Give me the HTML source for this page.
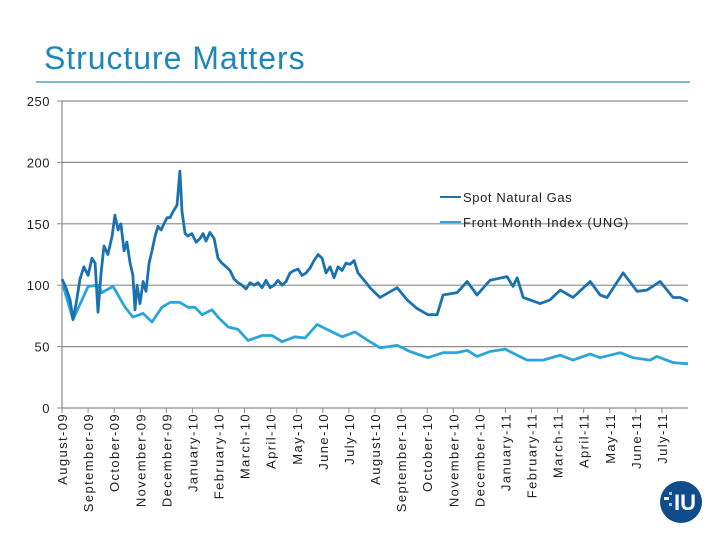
<!DOCTYPE html>
<html><head><meta charset="utf-8"><style>
body{margin:0;background:#fff;}
svg{display:block;font-family:"Liberation Sans",sans-serif;}
</style></head><body>
<svg id="c" width="720" height="540">
<text x="44" y="69" font-size="32" letter-spacing="0.95" fill="#1e87b8">Structure Matters</text>
<line x1="36" y1="82" x2="690" y2="82" stroke="#2f8fc0" stroke-width="1.3"/>
<g id="grid"></g><g id="axes"></g><g id="series"></g>
<g>
<line x1="440" y1="197" x2="461" y2="197" stroke="#1a72b0" stroke-width="2"/>
<text x="463" y="202" font-size="13" letter-spacing="0.6" fill="#222">Spot Natural Gas</text>
<line x1="440" y1="222" x2="461" y2="222" stroke="#2aa5da" stroke-width="2"/>
<text x="463" y="227" font-size="13" letter-spacing="0.85" fill="#222">Front Month Index (UNG)</text>
</g>
<g>
<circle cx="681" cy="502" r="21" fill="#0f4c8a"/>
<text x="685" y="510" font-size="22" font-weight="bold" fill="#fff" text-anchor="middle">IU</text>
<rect x="664" y="497" width="5" height="3" fill="#fff"/><rect x="669" y="492" width="3" height="3" fill="#8fd0f0"/><rect x="669" y="503" width="3" height="3" fill="#8fd0f0"/>
</g>
</svg>
<script>
const months=["August-09","September-09","October-09","November-09","December-09","January-10","February-10","March-10","April-10","May-10","June-10","July-10","August-10","September-10","October-10","November-10","December-10","January-11","February-11","March-11","April-11","May-11","June-11","July-11"];
const yTicks=[0,50,100,150,200,250];
const spotT=[0,.15,.31,.42,.54,.69,.84,1.0,1.15,1.27,1.38,1.5,1.61,1.76,1.92,2.03,2.15,2.26,2.38,2.49,2.61,2.72,2.8,2.88,2.99,3.11,3.22,3.34,3.45,3.57,3.68,3.8,3.91,4.03,4.14,4.26,4.41,4.52,4.6,4.72,4.83,4.98,5.14,5.29,5.41,5.52,5.67,5.83,5.98,6.13,6.29,6.44,6.6,6.75,6.9,7.06,7.21,7.36,7.52,7.67,7.82,7.98,8.13,8.28,8.44,8.59,8.74,8.9,9.05,9.2,9.36,9.51,9.66,9.82,9.97,10.12,10.28,10.43,10.58,10.74,10.89,11.04,11.2,11.35,11.5,11.66,11.81,12.19,12.85,13.23,13.61,14.03,14.38,14.61,15.15,15.53,15.91,16.41,17.06,17.29,17.45,17.68,18.33,18.71,19.1,19.59,20.25,20.63,20.9,21.51,22.05,22.43,22.93,23.43,23.7,24.0];
const spotV=[105,98,88,72,85,105,115,108,122,118,78,110,132,125,140,157,145,150,128,135,118,108,80,100,85,103,95,118,128,140,148,145,150,155,155,160,165,193,160,142,140,142,135,138,142,136,143,138,122,118,115,112,105,102,100,97,102,100,102,98,104,98,100,104,100,103,110,112,113,108,110,114,120,125,122,110,115,106,115,112,118,117,120,110,106,102,98,90,98,88,81,76,76,92,94,103,92,104,107,99,106,90,85,88,96,90,103,92,90,110,95,96,103,90,90,87];
const ungT=[.04,.42,1.0,1.38,1.53,1.96,2.42,2.72,3.11,3.45,3.83,4.14,4.52,4.83,5.1,5.37,5.75,5.98,6.37,6.75,7.13,7.67,8.05,8.44,8.93,9.32,9.78,10.35,10.74,11.23,11.73,12.19,12.85,13.34,14.03,14.61,15.15,15.53,15.91,16.41,16.99,17.45,17.83,18.44,19.1,19.59,20.25,20.63,21.4,21.89,22.55,22.81,23.43,24.0];
const ungV=[100,72,99,100,94,99,82,74,77,70,82,86,86,82,82,76,80,74,66,64,55,59,59,54,58,57,68,62,58,62,55,49,51,46,41,45,45,47,42,46,48,43,39,39,43,39,44,41,45,41,39,42,37,36];
const X0=62,X1=688,Y0=408,Y1=101;
const xs=m=>X0+m*(X1-X0)/24;
const ys=v=>Y0-v*(Y0-Y1)/250;
const NS="http://www.w3.org/2000/svg";
function mk(t,a,p){const e=document.createElementNS(NS,t);for(const k in a)e.setAttribute(k,a[k]);p.appendChild(e);return e;}
const grid=document.getElementById('grid'),axes=document.getElementById('axes'),ser=document.getElementById('series');
yTicks.forEach(v=>{
 if(v>0){const g=mk('line',{x1:X0,x2:X1,y1:ys(v),y2:ys(v),stroke:'#8c8c8c','stroke-width':1.2},grid);
 
 }
 mk('line',{x1:X0-5,x2:X0,y1:ys(v),y2:ys(v),stroke:'#8c8c8c'},axes);
 const t=mk('text',{x:X0-12,y:ys(v)+5,'font-size':13,'text-anchor':'end',fill:'#222','letter-spacing':'0.5'},axes);t.textContent=v;
 
 
});
const ya=mk('line',{x1:X0,x2:X0,y1:Y1,y2:Y0,stroke:'#8c8c8c','stroke-width':1.2},axes);


const xa=mk('line',{x1:X0,x2:X1,y1:Y0,y2:Y0,stroke:'#8c8c8c','stroke-width':1.2},axes);


months.forEach((m,i)=>{
 const x=xs(i);
 mk('line',{x1:x,x2:x,y1:Y0,y2:Y0+5,stroke:'#8c8c8c'},axes);
 const t=mk('text',{x:0,y:0,'font-size':13,'text-anchor':'end',fill:'#222','letter-spacing':'1.4',transform:`translate(${x+5},${Y0+5}) rotate(-90)`},axes);
 t.textContent=m;
 
 
});
function line(T,V,col,name){
 const d=T.map((t,i)=>(i?'L':'M')+xs(t).toFixed(1)+','+ys(V[i]).toFixed(1)).join('');
 const p=mk('path',{d,fill:'none',stroke:col,'stroke-width':2.8,'stroke-linejoin':'round'},ser);
 
 
}
line(ungT,ungV,'#2aa5da','ung-line');
line(spotT,spotV,'#1a72b0','spot-natural-gas-line');
</script>
</body></html>
